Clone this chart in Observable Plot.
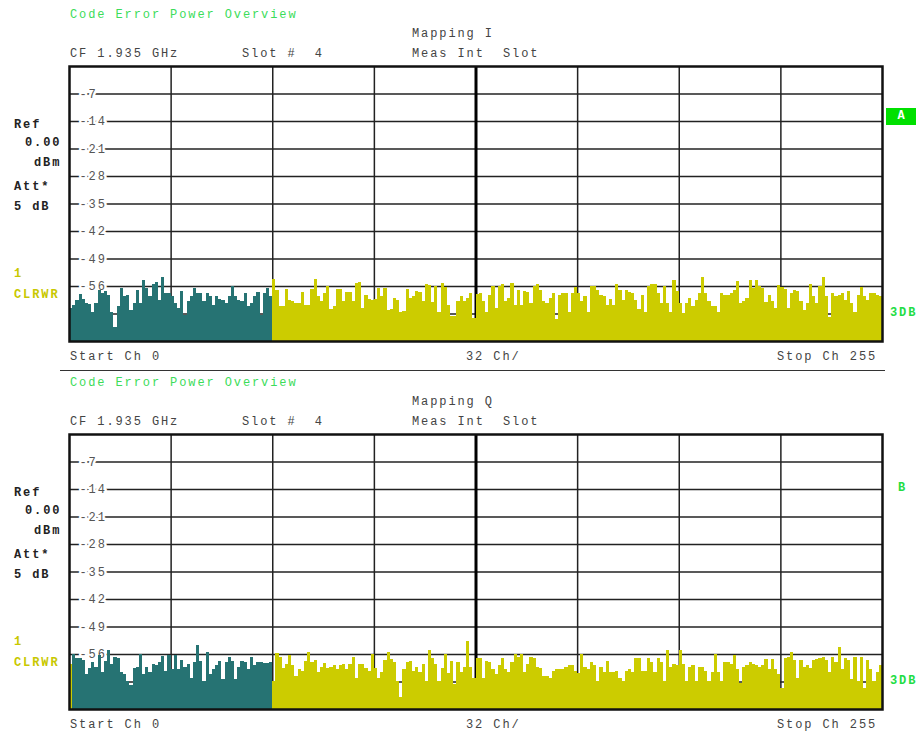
<!DOCTYPE html>
<html><head><meta charset="utf-8">
<script src="https://cdn.jsdelivr.net/npm/d3@7"></script>
<script src="https://cdn.jsdelivr.net/npm/@observablehq/plot@0.6"></script>
<style>
body{margin:0;background:#fff;}
#root{position:relative;width:919px;height:735px;overflow:hidden;font-family:"Liberation Mono","DejaVu Sans Mono",monospace;}
.t{position:absolute;font-size:12px;line-height:14px;letter-spacing:1.9px;white-space:pre;color:#444;}
.g{color:#3cdc5a}
.gb{color:#22dd44;font-weight:bold}
.b{font-weight:bold;color:#222}
.y{font-weight:bold;color:#c8c800}
.box{position:absolute;background:#00e000;color:#fff;font-weight:bold;font-size:12px;text-align:center;line-height:17px;}
.sep{position:absolute;height:1px;background:#333;}
svg{position:absolute;left:0;}
svg text{letter-spacing:1.9px;font-family:"Liberation Mono","DejaVu Sans Mono",monospace;}
</style></head><body><div id="root"></div><script>
// ---- data ----
const powerI = [
-61.6,-60.8,-59.5,-58.0,-59.3,-60.3,-60.5,-62.5,-60.3,-57.0,
-57.7,-57.3,-58.2,-62.5,-66.5,-61.2,-56.4,-58.6,-58.4,-62.0,
-60.3,-56.9,-60.3,-54.4,-56.4,-58.6,-55.6,-55.1,-59.5,-53.7,
-57.7,-57.7,-58.6,-60.3,-61.6,-57.3,-63.3,-59.9,-58.6,-56.4,
-57.7,-57.7,-59.9,-57.7,-58.6,-60.8,-58.6,-59.3,-59.5,-60.3,
-58.6,-56.0,-58.6,-59.5,-59.9,-57.7,-61.2,-60.3,-58.6,-57.5,
-63.3,-57.7,-56.4,-58.6,
-54.1,-56.9,-61.0,-61.0,-56.7,-59.5,-59.9,-60.3,-60.3,-57.5,
-60.8,-60.8,-56.7,-54.3,-58.6,-59.9,-57.7,-56.0,-61.9,-61.2,
-56.7,-56.7,-59.9,-57.5,-57.5,-59.9,-55.3,-55.1,-61.6,-58.2,
-59.3,-59.5,
-59.3,-56.4,-58.6,-56.4,-62.0,-61.9,-59.0,-59.5,-62.5,-62.3,
-56.7,-59.0,-58.6,-57.3,-57.5,-59.9,-55.6,-55.8,-60.1,-56.0,
-62.7,-55.3,-56.3,-60.8,-63.6,-63.6,-59.9,-58.6,-59.9,-59.0,
-57.7,-64.2,
-58.0,
-57.7,-59.9,-62.5,-58.2,-56.0,-61.6,-56.0,-55.6,-59.9,-59.0,
-55.3,-60.8,-56.9,-60.8,-57.3,-57.6,-60.3,-56.0,-55.4,-56.9,
-59.9,-60.3,-59.0,-57.7,-64.5,-58.2,-57.7,-57.7,-62.5,-57.7,
-56.3,-57.7,-59.9,-58.6,-62.5,-56.0,-56.0,-56.9,-58.2,-58.6,
-60.8,-59.3,-60.8,-55.6,-56.9,-59.5,-57.1,-57.6,-57.7,-59.5,
-61.9,-58.2,-62.5,-56.0,-55.6,-55.6,-57.7,-60.3,-56.0,-60.3,
-62.5,-54.5,-57.3,-60.3,-62.9,-60.3,-59.0,
-61.2,-59.5,-57.7,-53.7,-57.7,-59.9,-61.2,-61.0,-62.5,-57.7,
-58.2,-58.2,-57.7,-56.9,-54.7,-60.3,-59.9,-59.0,-54.5,-56.4,
-54.5,-56.0,-56.4,-60.1,-58.2,-59.9,-61.6,-55.8,-56.2,-56.7,
-61.6,-57.7,-57.0,-57.3,-59.9,-62.0,-60.3,-55.6,-58.6,-60.3,
-56.0,-53.6,-58.6,-63.8,-57.7,-58.6,-58.2,-57.7,-59.5,-57.3,
-60.3,-62.5,-58.2,-56.3,-58.6,-59.5,-57.7,-57.7,-58.2,-58.6
];
const powerQ = [
-58.5,-56.1,-57.0,-57.1,-57.6,-61.1,-59.6,-58.0,-59.3,-56.3,
-60.6,-57.8,-55.1,-58.5,-56.7,-57.0,-60.6,-61.1,-62.8,-64.0,
-59.6,-59.3,-56.1,-61.1,-59.3,-60.6,-58.5,-58.9,-58.0,-56.5,
-60.2,-56.3,-59.8,-56.3,-59.8,-57.6,-59.3,-58.5,-62.0,-58.0,
-53.8,-57.8,-62.8,-55.4,-61.1,-59.8,-58.7,-57.8,-62.4,-58.0,
-56.7,-57.8,-62.4,-59.3,-57.8,-58.0,-59.8,-56.7,-58.9,-58.0,
-58.0,-58.2,-58.2,-58.0,
-62.8,-55.8,-56.7,-59.6,-58.5,-56.3,-58.9,-61.5,-59.8,-60.2,
-57.8,-55.6,-58.0,-57.6,-60.5,-59.3,-58.2,-59.6,-59.3,-58.7,
-59.8,-58.9,-58.5,-59.8,-58.5,-56.7,-62.0,-58.5,-58.5,-59.6,
-60.2,-56.1,-59.6,-62.0,-60.6,-57.6,-55.4,-57.3,-58.0,-62.8,
-67.0,-59.8,-58.0,-57.8,-60.2,-59.3,-60.6,-58.5,-62.8,-55.0,
-57.1,-58.5,-62.8,-59.6,-56.1,-60.8,-57.8,-63.7,-58.0,-60.6,
-59.3,-52.8,-59.3,-62.0,
-57.0,-57.1,-62.0,-57.8,-58.0,-59.8,-61.1,-58.9,-57.1,-59.8,
-60.5,-58.0,-56.1,-56.7,-56.1,-60.6,-58.5,-56.7,-57.0,-59.3,
-59.6,-61.5,-61.7,-62.0,-60.2,-59.8,-59.8,-59.8,-59.2,-58.7,
-58.9,-60.2,-60.8,-56.1,-59.3,-59.9,-58.0,-58.9,-62.8,-59.3,
-60.6,-57.8,-60.5,-60.5,-60.2,-62.0,-62.8,-60.2,-59.8,-60.5,
-57.0,-57.0,-60.2,-60.2,-57.0,-58.0,-60.6,-57.1,-58.0,-62.8,
-55.0,-59.3,-58.5,-58.7,-55.0,-58.5,-62.8,-59.3,
-58.9,-62.8,-59.3,-59.3,-60.2,-62.8,-60.6,-56.1,-60.6,-62.8,
-58.0,-58.0,-58.5,-56.3,-59.8,-63.3,-59.3,-58.9,-58.0,-58.5,
-58.9,-59.3,-58.9,-57.3,-59.8,-57.3,-59.8,-61.1,-64.6,-57.0,
-56.7,-55.4,-57.6,-62.0,-57.6,-59.3,-58.9,-59.6,-57.6,-57.3,
-57.1,-56.7,-57.6,-60.5,-56.7,-58.0,-54.3,-59.8,-57.1,-57.6,
-62.4,-56.7,-62.8,-56.7,-64.6,-57.6,-59.8,-62.8,-60.6,-58.9
];
const activeI = [0, 63];   // active code channels (first, last), Mapping I
const activeQ = [1, 63];   // Mapping Q
const yTickLabels = [-7, -14, -21, -28, -35, -42, -49, -56];
const yGrid = [-7, -14, -21, -28, -35, -42, -49, -56, -63];
const xGrid = [32, 64, 96, 160, 192, 224];
const xCenter = [128];
const refLevel = 0, bottomLevel = -70, channelCount = 256;

const TEAL = "#267373", YELLOW = "#cccc00";
const root = document.getElementById("root");

function panel(values, active, top) {
  const data = values.map((v, i) => ({ch: i, v, on: i >= active[0] && i <= active[1]}));
  const svg = Plot.plot({
    width: 919, height: 368,
    marginLeft: 69, marginRight: 37, marginTop: 66, marginBottom: 27,
    x: {domain: [0, channelCount], axis: null},
    y: {domain: [bottomLevel, refLevel], axis: null},
    style: {background: "transparent", overflow: "visible"},
    marks: [
      Plot.ruleY(yGrid, {stroke: "#222", strokeWidth: 1.5}),
      Plot.ruleX(xGrid, {stroke: "#222", strokeWidth: 1.5}),
      Plot.ruleX(xCenter, {stroke: "#000", strokeWidth: 3}),
      Plot.text(yTickLabels, {x: 0, y: d => d, text: d => String(d), dx: 10, textAnchor: "start",
        fill: "#555", stroke: "white", strokeWidth: 5, paintOrder: "stroke", fontSize: 12}),
      Plot.rectY(data, {filter: d => d.on, x1: "ch", x2: d => d.ch + 1, y1: bottomLevel, y2: "v",
        fill: TEAL, inset: 0, shapeRendering: "crispEdges"}),
      Plot.rectY(data, {filter: d => !d.on, x1: "ch", x2: d => d.ch + 1, y1: bottomLevel, y2: "v",
        fill: YELLOW, inset: 0, shapeRendering: "crispEdges"}),
      Plot.frame({stroke: "#111", strokeWidth: 2.5})
    ]
  });
  svg.style.top = top + "px";
  root.appendChild(svg);
}

function label(txt, x, yc, cls) {
  const d = document.createElement("div");
  d.className = "t " + (cls || "");
  d.textContent = txt;
  d.style.left = x + "px";
  d.style.top = (yc - 6) + "px";
  root.appendChild(d);
  return d;
}

function texts(off, mapping, marker) {
  label("Code Error Power Overview", 70, 14 + off, "g");
  label(mapping, 412, 33 + off);
  label("CF 1.935 GHz", 70, 53 + off);
  label("Slot #  4", 242, 53 + off);
  label("Meas Int  Slot", 412, 53 + off);
  label("Ref", 14, 124 + off, "b");
  label("0.00", 25, 142 + off, "b");
  label("dBm", 34, 162 + off, "b");
  label("Att*", 14, 186 + off, "b");
  label("5 dB", 14, 206 + off, "b");
  label("1", 14, 273 + off, "y");
  label("CLRWR", 14, 294 + off, "y");
  label("3DB", 890, 312 + off, "gb");
  label("Start Ch 0", 70, 356 + off);
  label("32 Ch/", 466, 356 + off);
  label("Stop Ch 255", 777, 356 + off);
  if (marker === "A") {
    const b = document.createElement("div");
    b.className = "box"; b.textContent = "A";
    b.style.left = "886px"; b.style.top = (108 + off) + "px";
    b.style.width = "30px"; b.style.height = "17px";
    root.appendChild(b);
  } else {
    label(marker, 898, 119 + off, "gb");
  }
}

panel(powerI, activeI, 0);
panel(powerQ, activeQ, 368);
texts(0, "Mapping I", "A");
texts(368, "Mapping Q", "B");
const sep = document.createElement("div");
sep.className = "sep"; sep.style.left = "60px"; sep.style.width = "825px"; sep.style.top = "370px";
root.appendChild(sep);
</script></body></html>
